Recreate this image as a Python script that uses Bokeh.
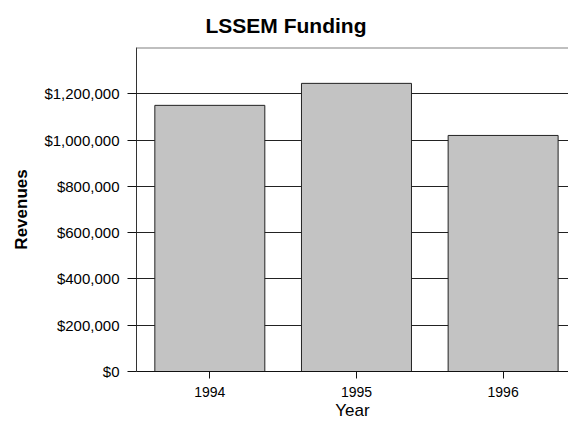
from bokeh.plotting import figure
from bokeh.models import (ColumnDataSource, FixedTicker, NumeralTickFormatter,
                          Range1d, Span, Title)
from bokeh.embed import file_html
from bokeh.resources import INLINE

# ---- data ----
years = ["1994", "1995", "1996"]
revenues = [1150000, 1245000, 1020000]
y_ticks = [0, 200000, 400000, 600000, 800000, 1000000, 1200000]
y_max = 1400000
title_text = "LSSEM Funding"
x_title = "Year"
y_title = "Revenues"

positions = list(range(1, len(years) + 1))
src = ColumnDataSource(dict(x=positions, top=revenues, year=years))

FONT = "Liberation Sans"

p = figure(width=568, height=423, output_backend="svg", toolbar_location=None,
           x_range=Range1d(0.5, 0.5 + 432 / 146.65), y_range=Range1d(0, y_max),
           min_border_left=136, min_border_right=0, min_border_top=47,
           min_border_bottom=52, title=None)
p.background_fill_color = "white"
p.border_fill_color = "white"
p.outline_line_color = None

# grid
p.xgrid.visible = False
p.ygrid.ticker = FixedTicker(ticks=y_ticks[1:])
p.ygrid.grid_line_color = "#222222"
p.ygrid.grid_line_width = 1
top_line = Span(location=y_max, dimension="width", line_color="#808080",
                line_width=2)
p.add_layout(top_line)

# bars
p.vbar(x="x", top="top", width=0.75, source=src, fill_color="#c3c3c3",
       line_color="#222222", line_width=1)

# x axis
p.xaxis.ticker = FixedTicker(ticks=positions)
p.xaxis.major_label_overrides = {pos: y for pos, y in zip(positions, years)}
p.xaxis.minor_tick_line_color = None
p.xaxis.major_tick_in = 0
p.xaxis.major_tick_out = 7
p.xaxis.axis_line_color = "#111111"
p.xaxis.major_tick_line_color = "#111111"
p.xaxis.major_label_text_font = FONT
p.xaxis.major_label_text_font_size = "14px"
p.xaxis.major_label_text_color = "black"
p.xaxis.major_label_standoff = 8
p.xaxis.axis_label = x_title
p.xaxis.axis_label_text_font = FONT
p.xaxis.axis_label_text_font_size = "17px"
p.xaxis.axis_label_text_font_style = "normal"
p.xaxis.axis_label_text_color = "black"
p.xaxis.axis_label_standoff = 1

# y axis
p.yaxis.ticker = FixedTicker(ticks=y_ticks)
p.yaxis.formatter = NumeralTickFormatter(format="$0,0")
p.yaxis.minor_tick_line_color = None
p.yaxis.major_tick_in = 0
p.yaxis.major_tick_out = 9
p.yaxis.axis_line_color = "#333333"
p.yaxis.major_tick_line_color = "#111111"
p.yaxis.major_label_text_font = FONT
p.yaxis.major_label_text_font_size = "15px"
p.yaxis.major_label_text_color = "black"
p.yaxis.major_label_standoff = 8
p.yaxis.axis_label = y_title
p.yaxis.axis_label_text_font = FONT
p.yaxis.axis_label_text_font_size = "17px"
p.yaxis.axis_label_text_font_style = "bold"
p.yaxis.axis_label_text_color = "black"
p.yaxis.axis_label_standoff = 10

# title
t = Title(text=title_text, align="left", offset=69, text_font=FONT,
          text_font_size="21px", text_font_style="bold", text_color="black",
          standoff=22)
p.add_layout(t, "above")

open("out.html", "w").write(file_html(p, INLINE))
